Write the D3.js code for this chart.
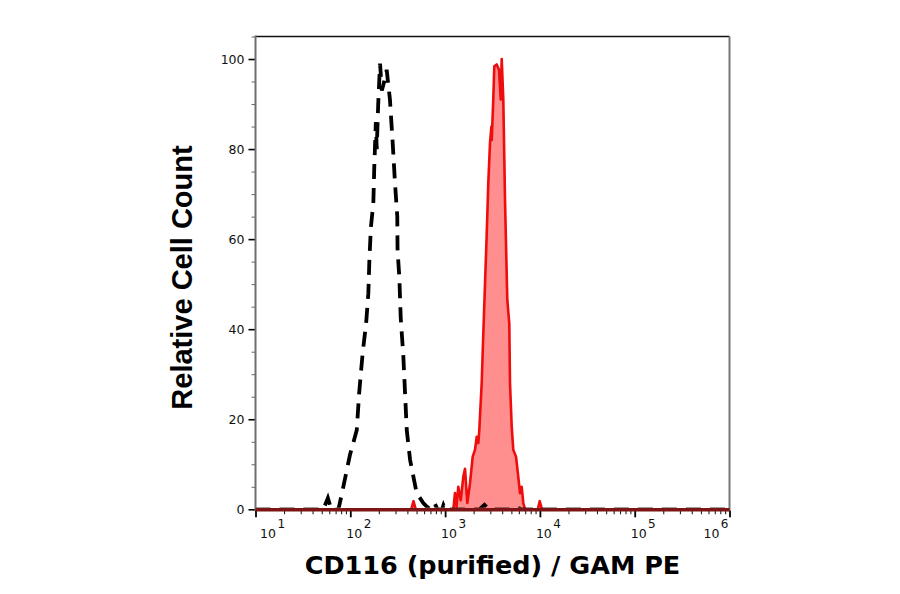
<!DOCTYPE html>
<html>
<head>
<meta charset="utf-8">
<script src="https://cdn.jsdelivr.net/npm/d3@7"></script>
<style>
  html, body { margin: 0; padding: 0; background: #fff; }
  svg { display: block; }
</style>
</head>
<body>
<svg id="chart" width="900" height="594"></svg>
<script>
// ---- Data (fluorescence intensity, relative cell count) ----
// CD116 (purified) / GAM PE stained sample (red, filled)
const stainedX = [10, 440, 464, 490, 1222, 1271, 1320, 1377, 1461, 1556, 1622, 1715, 1832, 1955, 2067, 2155, 2240, 2295, 2432, 2529, 2636, 2747, 2856, 2978, 3080, 3104, 3223, 3304, 3500, 3704, 3863, 3955, 4111, 4285, 4531, 4754, 4838, 5044, 5241, 5597, 5916, 6166, 6426, 6683, 6966, 9500, 9950, 10500, 1000000];
const stainedY = [0, 0, 1.8, 0, 0, 3.6, 0.6, 5, 2, 7.2, 9, 1.4, 5.8, 11.7, 13.2, 16.1, 14.7, 17.6, 28, 39, 50, 61, 72.5, 81.4, 85, 82, 91, 98.4, 98.8, 97.6, 91, 100, 91, 68.7, 46.5, 41.3, 28, 18.3, 13.2, 11.7, 7.2, 3.6, 5, 1.4, 0, 0, 1.8, 0, 0];

// Isotype / negative control (black, dashed)
const controlX = [10, 52, 58, 63, 75, 81, 99, 117, 124, 135, 147, 155, 159, 165, 175, 179, 186, 190, 197, 206, 215, 228, 242, 262, 280, 296, 313, 315, 329, 340, 363, 378, 394, 427, 501, 589, 640, 700, 740, 782, 830, 930, 960, 1000, 2300, 2600, 2900, 5100, 5700, 6400, 1000000];
const controlY = [0, 0, 2.5, 0, 0, 3.2, 12, 17.6, 25.8, 34.7, 41.4, 48, 55.4, 62.7, 68, 76, 86, 80, 90, 99, 93, 95, 97.6, 91, 81.4, 72.5, 65, 57.6, 51.6, 42.7, 33.8, 25.8, 17.6, 11, 3.6, 1.4, 0.6, 0, 0.2, 1.2, 0, 0, 0.9, 0, 0, 1.0, 0, 0, 0.4, 0, 0];

// Axis ticks
const yMajorTicks = [0, 20, 40, 60, 80, 100];
const yMinorTicks = [5, 10, 15, 25, 30, 35, 45, 50, 55, 65, 70, 75, 85, 90, 95, 105];
const xDecades = [1, 2, 3, 4, 5, 6]; // exponents for 10^n labels

const xTitle = "CD116 (purified) / GAM PE";
const yTitle = "Relative Cell Count";

// ---- Layout ----
const svg = d3.select("#chart");
const pL = 255.5, pR = 729.5, pT = 36.5, pB = 509.3;

const x = d3.scaleLog().domain([10, 1e6]).range([pL, pR]);
const y = d3.scaleLinear().domain([0, 105]).range([pB, pT]);

const xMinor = [];
for (let d = 1; d < 6; d++) for (let m = 2; m <= 9; m++) xMinor.push(m * Math.pow(10, d));
const xMajor = xDecades.map(e => Math.pow(10, e));

const stained = stainedX.map((v, i) => [v, stainedY[i]]);
const control = controlX.map((v, i) => [v, controlY[i]]);

svg.append("defs").append("clipPath").attr("id", "aboveBase")
  .append("rect").attr("x", pL).attr("y", pT).attr("width", pR - pL).attr("height", pB - pT - 1.6);

// Frame: top (black) and right (grey)
svg.append("line").attr("x1", pL).attr("x2", pR).attr("y1", pT).attr("y2", pT)
  .attr("stroke", "#111").attr("stroke-width", 1.3);
svg.append("line").attr("x1", pR).attr("x2", pR).attr("y1", pT).attr("y2", pB + 2)
  .attr("stroke", "#777").attr("stroke-width", 2);

// Stained histogram (filled)
const area = d3.area().x(d => x(d[0])).y0(y(0)).y1(d => y(d[1]));
const line = d3.line().x(d => x(d[0])).y(d => y(d[1]));
svg.append("path").datum(stained).attr("d", area)
  .attr("fill", "#ff8f8f");
svg.append("path").datum(stained).attr("d", line)
  .attr("fill", "none").attr("stroke", "#ee0c0c").attr("stroke-width", 2.6)
  .attr("stroke-linejoin", "round");

// Control histogram (dashed)
svg.append("path").datum(control).attr("d", line)
  .attr("clip-path", "url(#aboveBase)")
  .attr("fill", "none").attr("stroke", "#000").attr("stroke-width", 3.8)
  .attr("stroke-dasharray", "15,9");

// Y axis (minor + major)
const yMinorAxis = d3.axisLeft(y).tickValues(yMinorTicks).tickSize(4).tickFormat("");
const gyMinor = svg.append("g").attr("transform", `translate(${pL},0)`).call(yMinorAxis);
gyMinor.select(".domain").remove();
gyMinor.selectAll(".tick line").attr("stroke", "#666").attr("stroke-width", 1);

const yAxis = d3.axisLeft(y).tickValues(yMajorTicks).tickSize(7).tickPadding(4).tickFormat(d3.format("d"));
const gy = svg.append("g").attr("transform", `translate(${pL},0)`).call(yAxis);
gy.select(".domain").remove();
gy.selectAll(".tick line").attr("stroke", "#000").attr("stroke-width", 1.6);
gy.selectAll(".tick text").attr("font-family", "DejaVu Sans, Verdana, sans-serif")
  .attr("font-size", 12.5).attr("fill", "#111");

svg.append("line").attr("x1", pL).attr("x2", pL).attr("y1", pT - 1).attr("y2", pB + 2)
  .attr("stroke", "#6e6e6e").attr("stroke-width", 2);

// X axis ticks
const xMinorAxis = d3.axisBottom(x).tickValues(xMinor).tickSize(3.5).tickFormat("");
const gxMinor = svg.append("g").attr("transform", `translate(0,${pB + 1.5})`).call(xMinorAxis);
gxMinor.select(".domain").remove();
gxMinor.selectAll(".tick line").attr("stroke", "#222").attr("stroke-width", 1.1);

const xAxis = d3.axisBottom(x).tickValues(xMajor).tickSize(6.5).tickFormat("");
const gx = svg.append("g").attr("transform", `translate(0,${pB + 1.5})`).call(xAxis);
gx.select(".domain").remove();
gx.selectAll(".tick line").attr("stroke", "#000").attr("stroke-width", 1.8);

// Baseline (axis line)
svg.append("line").attr("x1", pL).attr("x2", pR).attr("y1", pB + 0.5).attr("y2", pB + 0.5)
  .attr("stroke", "#7c1616").attr("stroke-width", 3.4);

// X tick labels 10^n
xDecades.forEach((e, i) => {
  const px = x(Math.pow(10, e));
  const t = svg.append("text")
    .attr("y", 537.5)
    .attr("font-family", "DejaVu Sans, Verdana, sans-serif")
    .attr("font-size", 12.5).attr("fill", "#111");
  t.append("tspan").text("10");
  t.append("tspan").attr("dy", -9.5).attr("dx", 1.5).attr("font-size", 12).text(String(e));
  if (i === 0) {
    t.attr("x", px + 4.5).attr("text-anchor", "start");
  } else if (i === xDecades.length - 1) {
    t.attr("x", px - 1).attr("text-anchor", "end");
  } else {
    t.attr("x", px - 4).attr("text-anchor", "start");
  }
});

// Axis titles
svg.append("text")
  .attr("x", 492.5).attr("y", 573.5)
  .attr("text-anchor", "middle")
  .attr("font-family", "DejaVu Sans, Verdana, sans-serif")
  .attr("font-weight", "bold").attr("font-size", 25.5).attr("fill", "#000")
  .text(xTitle);

svg.append("text")
  .attr("transform", "translate(192,277.5) rotate(-90)")
  .attr("text-anchor", "middle")
  .attr("font-family", "Liberation Sans, Arial, sans-serif")
  .attr("font-weight", "bold").attr("font-size", 29).attr("fill", "#000")
  .text(yTitle);
</script>
</body>
</html>
